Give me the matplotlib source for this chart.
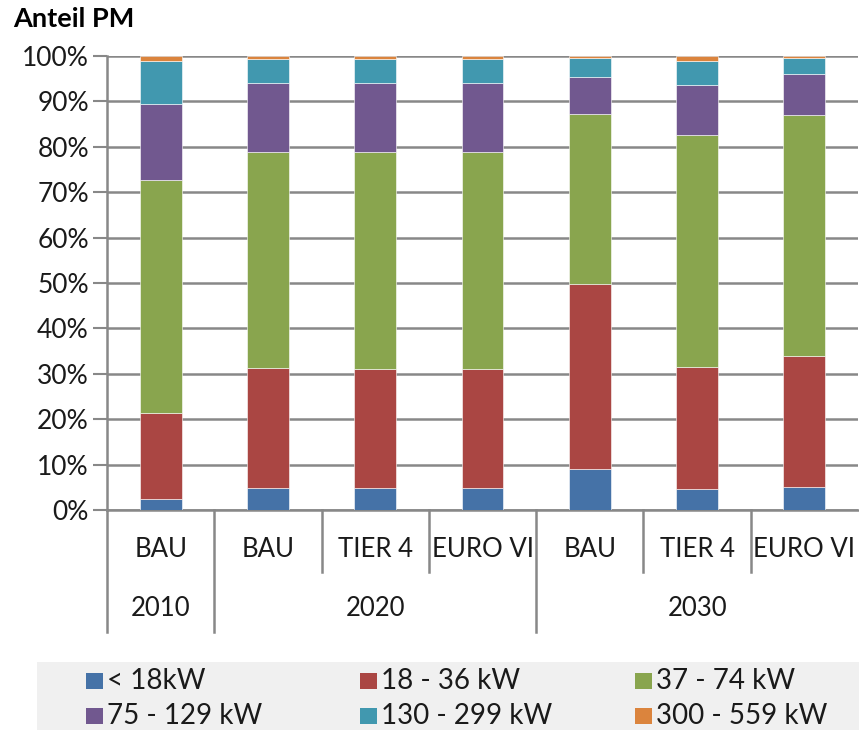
import matplotlib.pyplot as plt
from matplotlib.patches import Rectangle
from matplotlib.ticker import PercentFormatter

plt.rcParams['font.family'] = ['Lato', 'DejaVu Sans']

# Kategorien (zweistufige x-Achse)
szenarien = ["BAU", "BAU", "TIER 4", "EURO VI", "BAU", "TIER 4", "EURO VI"]
jahre = ["2010", "2020", "2030"]
jahr_gruppen = [(0, 1), (1, 4), (4, 7)]  # Index-Bereiche je Jahr

# Anteile in % je Leistungsklasse
kl_lt18 = [2.4, 4.8, 4.8, 4.8, 9.1, 4.7, 5.0]
kl_18_36 = [18.9, 26.5, 26.3, 26.3, 40.7, 26.9, 29.0]
kl_37_74 = [51.4, 47.6, 47.8, 47.8, 37.4, 51.1, 53.0]
kl_75_129 = [16.7, 15.2, 15.2, 15.2, 8.2, 11.0, 9.0]
kl_130_299 = [9.5, 5.2, 5.2, 5.2, 4.1, 5.3, 3.6]
kl_300_559 = [1.1, 0.7, 0.7, 0.7, 0.5, 1.0, 0.4]

klassen = ["< 18kW", "18 - 36 kW", "37 - 74 kW", "75 - 129 kW", "130 - 299 kW", "300 - 559 kW"]
werte = [kl_lt18, kl_18_36, kl_37_74, kl_75_129, kl_130_299, kl_300_559]
farben = ["#4572A7", "#AA4643", "#89A54E", "#71588F", "#4198AF", "#DB843D"]

grau = "#888888"
W, H = 859, 730

fig = plt.figure(figsize=(8.59, 7.30), dpi=100)
ax = fig.add_axes([107 / W, 1 - 510 / H, 751 / W, 454 / H])

x = list(range(len(szenarien)))
unten = [0.0] * len(x)
for w, f in zip(werte, farben):
    ax.bar(x, w, bottom=unten, width=0.39, color=f, edgecolor="white", linewidth=0.4, zorder=3)
    unten = [u + v for u, v in zip(unten, w)]

ax.set_xlim(-0.5, len(x) - 0.5)
ax.set_ylim(0, 100)
ax.set_yticks(range(0, 101, 10))
ax.yaxis.set_major_formatter(PercentFormatter(decimals=0))
ax.tick_params(axis="y", length=10, width=1.5, color=grau, labelsize=19, pad=3, labelcolor="#1a1a1a")
ax.tick_params(axis="x", length=0, labelbottom=False)
ax.grid(axis="y", color=grau, linewidth=1.8, zorder=0)
for s in ["top", "right"]:
    ax.spines[s].set_visible(False)
ax.spines["left"].set_color(grau)
ax.spines["left"].set_linewidth(1.8)
ax.spines["bottom"].set_color(grau)
ax.spines["bottom"].set_linewidth(1.8)

# zweistufige Kategorienachse
trans = ax.get_xaxis_transform()
for i, s in enumerate(szenarien):
    ax.text(i, -0.088, s, transform=trans, ha="center", va="center", fontsize=18.5, color="#1a1a1a")
grenzen_gruppe = [g[0] - 0.5 for g in jahr_gruppen]
for i in range(len(x)):
    xb = i - 0.5
    tief = -0.269 if xb in grenzen_gruppe else -0.137
    ax.plot([xb, xb], [0, tief], transform=trans, color=grau, linewidth=1.8, clip_on=False)
for (a, b), j in zip(jahr_gruppen, jahre):
    ax.text((a + b - 1) / 2, -0.216, j, transform=trans, ha="center", va="center", fontsize=18.5, color="#1a1a1a")

fig.text(13 / W, 1 - 19 / H, "Anteil PM", fontsize=19.5, fontweight="bold", ha="left", va="center")

# Legende (grauer Kasten, 3 Spalten x 2 Zeilen)
fig.patches.append(Rectangle((37 / W, 0), 822 / W, 68 / H, transform=fig.transFigure,
                             facecolor="#f0f0f0", edgecolor="none", zorder=0))
spalten_x = [86, 360, 635]
zeilen_y = [681, 716]
for k, (name, f) in enumerate(zip(klassen, farben)):
    px = spalten_x[k % 3]
    py = zeilen_y[k // 3]
    fig.patches.append(Rectangle((px / W, 1 - (py + 8) / H), 17 / W, 16 / H, transform=fig.transFigure,
                                 facecolor=f, edgecolor="none", zorder=1))
    fig.text((px + 21) / W, 1 - py / H, name, fontsize=20, ha="left", va="center", color="#1a1a1a")

fig.savefig("out.png", dpi=100)
